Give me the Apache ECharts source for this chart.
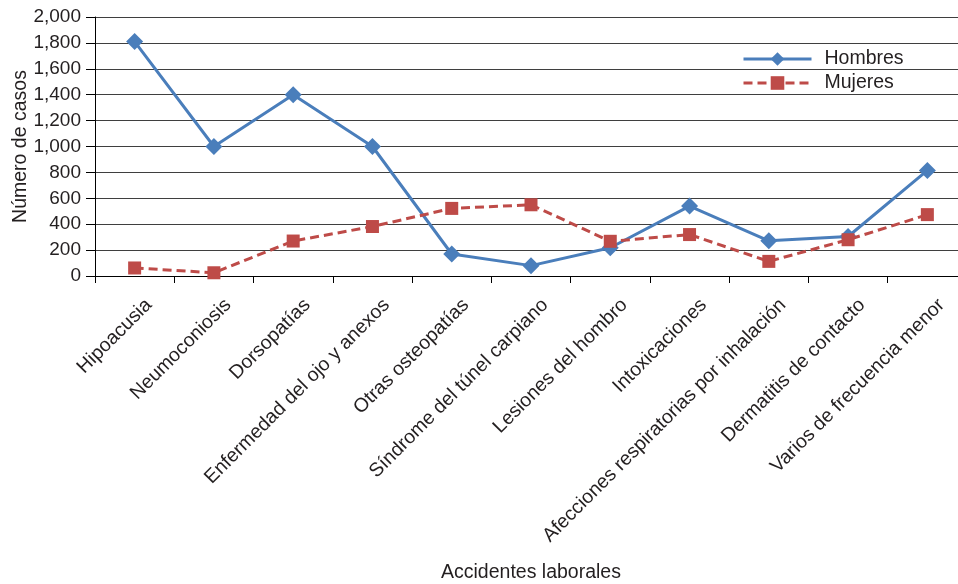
<!DOCTYPE html>
<html>
<head>
<meta charset="utf-8">
<script src="https://cdn.jsdelivr.net/npm/echarts@6/dist/echarts.min.js"></script>
<style>
  html, body { margin: 0; padding: 0; background: #fff; }
  #chart { width: 958px; height: 584px; }
</style>
</head>
<body>
<div id="chart"></div>
<script>
// Occupational disease cases by category, men vs women
const categories = [
  'Hipoacusia',
  'Neumoconiosis',
  'Dorsopatías',
  'Enfermedad del ojo y anexos',
  'Otras osteopatías',
  'Síndrome del túnel carpiano',
  'Lesiones del hombro',
  'Intoxicaciones',
  'Afecciones respiratorias por inhalación',
  'Dermatitis de contacto',
  'Varios de frecuencia menor'
];
const hombres = [1810, 1000, 1400, 1000, 170, 80, 218, 540, 272, 305, 815];
const mujeres = [62, 25, 270, 382, 522, 550, 268, 320, 113, 280, 474];
const seriesNames = ['Hombres', 'Mujeres'];
const yAxisTitle = 'Número de casos';
const xAxisTitle = 'Accidentes laborales';

const FONT = '"Liberation Sans", Arial, sans-serif';
const TEXT = '#231f20';

const chart = echarts.init(document.getElementById('chart'), null, { renderer: 'canvas' });

chart.setOption({
  animation: false,
  backgroundColor: '#ffffff',
  textStyle: { fontFamily: FONT },
  grid: {
    left: 95,
    top: 17,
    width: 872,
    height: 259,
    containLabel: false,
    outerBoundsMode: 'none'
  },
  legend: {
    data: seriesNames,
    orient: 'vertical',
    left: 737,
    top: 44,
    itemWidth: 68,
    itemHeight: 17,
    itemGap: 4,
    lineStyle: { width: 3 },
    textStyle: { fontFamily: FONT, fontSize: 19.5, color: TEXT, padding: [0, 0, 0, 8] }
  },
  xAxis: {
    type: 'category',
    data: categories,
    boundaryGap: true,
    name: xAxisTitle,
    nameLocation: 'middle',
    nameGap: 287,
    nameMoveOverlap: false,
    nameTextStyle: { fontFamily: FONT, fontSize: 19.5, color: TEXT },
    axisLine: { lineStyle: { color: '#000', width: 1 } },
    axisTick: { show: true, length: 7, inside: false, lineStyle: { color: '#000' } },
    axisLabel: {
      interval: 0,
      rotate: 45,
      margin: 12,
      verticalAlign: 'top',
      lineHeight: 40,
      fontFamily: FONT,
      fontSize: 19.5,
      color: TEXT
    },
    splitLine: { show: false }
  },
  yAxis: {
    type: 'value',
    min: 0,
    max: 2000,
    interval: 200,
    name: yAxisTitle,
    nameLocation: 'middle',
    nameGap: 64,
    nameMoveOverlap: false,
    nameTextStyle: { fontFamily: FONT, fontSize: 19.5, color: TEXT },
    axisLine: { show: true, lineStyle: { color: '#000', width: 1 } },
    axisTick: { show: true, length: 9, inside: false, lineStyle: { color: '#000' } },
    axisLabel: {
      margin: 14,
      fontFamily: FONT,
      fontSize: 19,
      color: TEXT,
      formatter: v => v.toLocaleString('en-US')
    },
    splitLine: { show: true, lineStyle: { color: '#3f3f3f', width: 1 } }
  },
  series: [
    {
      name: seriesNames[0],
      type: 'line',
      data: hombres,
      symbol: 'diamond',
      symbolSize: 17,
      showAllSymbol: true,
      itemStyle: { color: '#4a7ebb' },
      lineStyle: { color: '#4a7ebb', width: 3 },
      z: 3
    },
    {
      name: seriesNames[1],
      type: 'line',
      data: mujeres,
      symbol: 'rect',
      symbolSize: 13,
      showAllSymbol: true,
      itemStyle: { color: '#be4b48' },
      lineStyle: { color: '#be4b48', width: 3, type: [9, 5] },
      z: 4
    }
  ]
});
</script>
</body>
</html>
